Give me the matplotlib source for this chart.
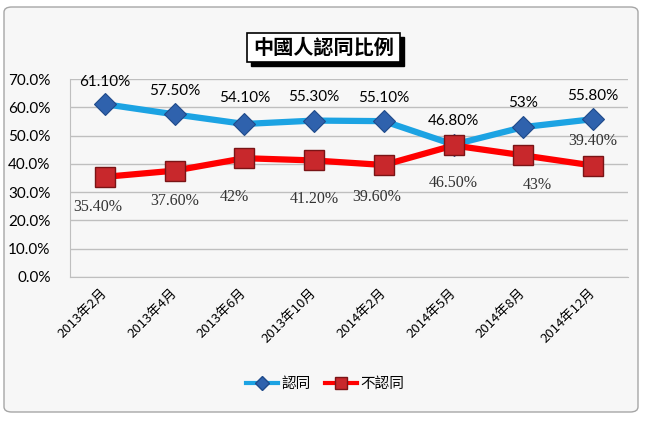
import matplotlib
matplotlib.use("Agg")
import matplotlib.pyplot as plt
from matplotlib.patches import FancyBboxPatch, Rectangle
from matplotlib.lines import Line2D

plt.rcParams['font.family'] = ['Noto Sans CJK TC', 'DejaVu Sans']

# data
months = ['2013年2月', '2013年4月', '2013年6月', '2013年10月',
          '2014年2月', '2014年5月', '2014年8月', '2014年12月']
agree = [61.1, 57.5, 54.1, 55.3, 55.1, 46.8, 53.0, 55.8]
disagree = [35.4, 37.6, 42.0, 41.2, 39.6, 46.5, 43.0, 39.4]
agree_labels = ['61.10%', '57.50%', '54.10%', '55.30%', '55.10%', '46.80%', '53%', '55.80%']
disagree_labels = ['35.40%', '37.60%', '42%', '41.20%', '39.60%', '46.50%', '43%', '39.40%']
y_ticks = [0, 10, 20, 30, 40, 50, 60, 70]

fig = plt.figure(figsize=(6.5, 4.32), dpi=100)
fig.patch.set_facecolor('white')

# outer rounded chart border
frame = FancyBboxPatch((4 / 650, 1 - 412 / 432), 634 / 650, 405 / 432,
                       boxstyle="round,pad=0,rounding_size=0.012",
                       transform=fig.transFigure, facecolor='#f7f7f7',
                       edgecolor='#a6a6a6', linewidth=1.0, zorder=-1)
fig.patches.append(frame)

ax = fig.add_axes([70 / 650, 1 - 277 / 432, 558 / 650, 198 / 432])
ax.set_facecolor('#f7f7f7')
x = list(range(len(months)))

ax.plot(x, agree, color='#1ca3e3', linewidth=4.5, marker='D', markersize=11,
        markerfacecolor='#2f62ad', markeredgecolor='#1f4a8a', markeredgewidth=0.8,
        zorder=3, label='認同')
ax.plot(x, disagree, color='#ff0000', linewidth=4.5, marker='s', markersize=14,
        markerfacecolor='#c8282c', markeredgecolor='#7a1416', markeredgewidth=1.0,
        zorder=4, label='不認同')

# data labels
agree_off = [(0, 16), (0, 17), (0, 19), (0, 17), (0, 17), (0, 17), (0, 17), (0, 17)]
for i, (v, t) in enumerate(zip(agree, agree_labels)):
    dx, dy = agree_off[i]
    ax.annotate(t, (i, v), xytext=(dx, dy), textcoords='offset points',
                ha='center', va='center', fontsize=11, family='Lato', zorder=5)
dis_off = [(-5, -22), (0, -22), (-7, -28), (0, -28), (-5, -23), (0, -27), (10, -21), (0, 18)]
for i, (v, t) in enumerate(zip(disagree, disagree_labels)):
    dx, dy = dis_off[i]
    ax.annotate(t, (i, v), xytext=(dx, dy), textcoords='offset points',
                ha='center', va='center', fontsize=11.5, family='Liberation Serif',
                color='#333333', zorder=5)

ax.set_xlim(-0.5, len(months) - 0.5)
ax.set_ylim(0, 70)
ax.set_yticks(y_ticks)
ax.set_yticklabels([f'{v:.1f}%' for v in y_ticks], fontsize=11, family='Lato')
ax.set_xticks(x)
ax.set_xticklabels(months, rotation=45, ha='right', va='center',
                   rotation_mode='anchor', fontsize=9.5)
ax.tick_params(axis='x', length=0, pad=10)
ax.tick_params(axis='y', length=0, pad=14)
ax.yaxis.grid(True, color='#bfbfbf', linewidth=1.0)
ax.set_axisbelow(True)
for side in ['top', 'right']:
    ax.spines[side].set_visible(False)
ax.spines['left'].set_color('#bfbfbf')
ax.spines['bottom'].set_color('#bfbfbf')

# title box with shadow
fig.patches.append(Rectangle((251 / 650, 1 - 66 / 432), 153 / 650, 29 / 432,
                             transform=fig.transFigure, facecolor='black',
                             edgecolor='black', zorder=5))
fig.patches.append(Rectangle((247 / 650, 1 - 62 / 432), 153 / 650, 29 / 432,
                             transform=fig.transFigure, facecolor='white',
                             edgecolor='black', linewidth=1.2, zorder=6))
fig.text(323.5 / 650, 1 - 47.5 / 432, '中國人認同比例', ha='center', va='center',
         fontsize=14.5, fontweight='bold', zorder=7)

handles = [Line2D([0], [0], color='#1ca3e3', linewidth=3, marker='D', markersize=7,
                  markerfacecolor='#2f62ad', markeredgecolor='#1f4a8a'),
           Line2D([0], [0], color='#ff0000', linewidth=3, marker='s', markersize=8,
                  markerfacecolor='#c8282c', markeredgecolor='#7a1416')]
fig.legend(handles, ['認同', '不認同'], loc='center', bbox_to_anchor=(325 / 650, 1 - 384 / 432),
           ncol=2, frameon=False, fontsize=10.5, handlelength=2.2, handletextpad=0.2,
           columnspacing=1.0)

fig.savefig('out.png', dpi=100)
